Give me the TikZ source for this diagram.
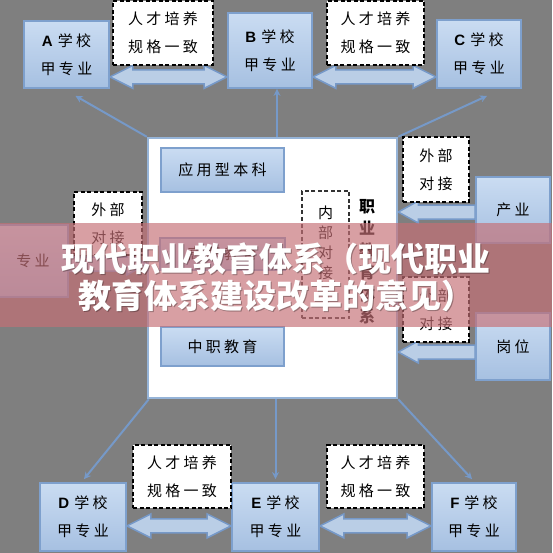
\documentclass[tikz,border=0pt]{standalone}
\usepackage{fontspec}
\setmainfont{Liberation Sans}
\newfontfamily\cjk{Noto Sans CJK SC}
\newfontfamily\cjkls{Noto Sans CJK SC}[LetterSpace=22]
\newfontfamily\latinf{Liberation Sans}
\usetikzlibrary{calc,arrows.meta}
\pgfdeclarelayer{back}\pgfdeclarelayer{mid}\pgfdeclarelayer{front}
\pgfsetlayers{back,mid,main,front}
\definecolor{bggray}{RGB}{127,127,127}
\definecolor{bordblue}{RGB}{126,160,205}
\definecolor{linblue}{RGB}{118,153,200}
\definecolor{boxtop}{RGB}{202,220,242}
\definecolor{boxbot}{RGB}{166,192,225}
\definecolor{arrfill}{RGB}{186,206,230}
\definecolor{centbord}{RGB}{150,180,216}
\definecolor{bannerred}{RGB}{198,112,118}
\tikzset{
 bluebox/.style={draw=bordblue, line width=1.8pt, top color=boxtop, bottom color=boxbot, inner sep=0pt, align=center, font=\cjkls\fontsize{15}{28}\selectfont},
 dashbox/.style={draw=black, fill=white, line width=1.6pt, dash pattern=on 4pt off 2.5pt, inner sep=0pt, align=center, font=\cjkls\fontsize{15}{28}\selectfont},
 conn/.style={draw=linblue, line width=2pt, -{Stealth[length=7pt,width=7pt]}},
 barrow/.style={draw=linblue, line width=1.5pt, fill=arrfill, line join=miter},
 bracketline/.style={draw=linblue, line width=1.3pt},
 bannertext/.style={font=\cjk\bfseries\fontsize{33}{37}\selectfont, text=white, anchor=base, inner sep=0pt},
 bannershadow/.style={font=\cjk\bfseries\fontsize{33}{37}\selectfont, text=black, opacity=0.3, anchor=base, inner sep=0pt},
}
\newcommand{\dblarr}[4]{%
\draw[barrow] (#1) -- ($(#1)+(#3,-#4)$) -- ($(#1)+(#3,-7)$) -- ($(#2)+(-#3,-7)$) -- ($(#2)+(-#3,-#4)$) -- (#2) -- ($(#2)+(-#3,#4)$) -- ($(#2)+(-#3,7)$) -- ($(#1)+(#3,7)$) -- ($(#1)+(#3,#4)$) -- cycle;}
\newcommand{\leftarr}[2]{% tip, tail
\draw[barrow] (#1) -- ($(#1)+(20,-11)$) -- ($(#1)+(20,-7)$) -- ($(#2)+(0,-7)$) -- ($(#2)+(0,7)$) -- ($(#1)+(20,7)$) -- ($(#1)+(20,11)$) -- cycle;}
\newcommand{\rightarr}[2]{% tip, tail
\draw[barrow] (#1) -- ($(#1)+(-20,-11)$) -- ($(#1)+(-20,-7)$) -- ($(#2)+(0,-7)$) -- ($(#2)+(0,7)$) -- ($(#1)+(-20,7)$) -- ($(#1)+(-20,11)$) -- cycle;}
\newcommand{\uparr}[2]{% tip, tail
\draw[barrow] (#1) -- ($(#1)+(10,12)$) -- ($(#1)+(6,12)$) -- ($(#2)+(6,0)$) -- ($(#2)+(-6,0)$) -- ($(#1)+(-6,12)$) -- ($(#1)+(-10,12)$) -- cycle;}
\begin{document}
\begin{tikzpicture}[x=1pt,y=-1pt]
\useasboundingbox (0,0) rectangle (552,553);
\begin{pgfonlayer}{back}
\fill[bggray] (0,0) rectangle (552,553);
\end{pgfonlayer}

% central box
\node[draw=centbord, line width=2.5pt, fill=white, minimum width=249pt, minimum height=260pt, inner sep=0pt] (cent) at (272.5,268) {};
\node[bluebox, minimum width=123pt, minimum height=44pt] (ben) at (222.5,170) {应用型本科};
\node[bluebox, minimum width=125pt, minimum height=32pt] (gao) at (222.5,254) {高职教育};
\node[bluebox, minimum width=123pt, minimum height=39pt] (zhong) at (222.5,346.5) {中职教育};
\node[dashbox, draw=black!80, line width=1.1pt, fill=none, minimum width=47pt, minimum height=127pt] (nb) at (325.5,254.5) {};
\node[font=\cjk\fontsize{15}{20}\selectfont, align=center, inner sep=0pt] (nbt) at (325.5,243) {内\\部\\对\\接};
\node[font=\cjk\bfseries\fontsize{16}{22}\selectfont, align=center, inner sep=0pt] (zyjy) at (367,262) {职\\业\\教\\育\\体\\系};

% top row
\node[bluebox, minimum width=85pt, minimum height=67pt] (A) at (66.5,54.5) {{\latinf\bfseries A}\hspace{5pt}学校\\甲专业};
\node[bluebox, minimum width=84pt, minimum height=75pt] (B) at (270,50.5) {{\latinf\bfseries B}\hspace{5pt}学校\\甲专业};
\node[bluebox, minimum width=84pt, minimum height=68pt] (C) at (479,54) {{\latinf\bfseries C}\hspace{5pt}学校\\甲专业};
\node[dashbox, minimum width=100pt, minimum height=64pt] (dab) at (163,33) {人才培养\\规格一致};
\node[dashbox, minimum width=97pt, minimum height=64pt] (dbc) at (375.5,33) {人才培养\\规格一致};

% bottom row
\node[bluebox, minimum width=86pt, minimum height=68pt] (D) at (83,517) {{\latinf\bfseries D}\hspace{5pt}学校\\甲专业};
\node[bluebox, minimum width=87pt, minimum height=68pt] (E) at (275.5,517) {{\latinf\bfseries E}\hspace{5pt}学校\\甲专业};
\node[bluebox, minimum width=84pt, minimum height=68pt] (F) at (474,517) {{\latinf\bfseries F}\hspace{5pt}学校\\甲专业};
\node[dashbox, minimum width=98pt, minimum height=63pt] (dde) at (182,476.5) {人才培养\\规格一致};
\node[dashbox, minimum width=97pt, minimum height=63pt] (def) at (375.5,476.5) {人才培养\\规格一致};

% sides
\node[bluebox, minimum width=74pt, minimum height=66pt] (cy) at (513,210) {产业};
\node[bluebox, minimum width=74pt, minimum height=67pt] (gw) at (513,346.5) {岗位};
\node[bluebox, minimum width=70pt, minimum height=72pt] (zy) at (33,261) {专业};
\node[dashbox, minimum width=66pt, minimum height=65pt] (wr1) at (436,169.5) {外部\\对接};
\node[dashbox, minimum width=66pt, minimum height=65pt] (wr2) at (436,309.5) {外部\\对接};
\node[dashbox, minimum width=68pt, minimum height=63pt] (wl) at (108,223.5) {外部\\对接};

\begin{pgfonlayer}{mid}
% block arrows
\coordinate (ab1) at ($(A.south east)+(0,-12)$);
\coordinate (ab2) at ($(B.south west)+(0,-12)$);
\dblarr{ab1}{ab2}{23}{11.5}
\coordinate (bc1) at ($(B.south east)+(0,-12)$);
\coordinate (bc2) at ($(C.south west)+(0,-12)$);
\dblarr{bc1}{bc2}{23}{11.5}
\coordinate (de1) at ($(D.south east)+(0,-26)$);
\coordinate (de2) at ($(E.south west)+(0,-26)$);
\dblarr{de1}{de2}{24}{12}
\coordinate (ef1) at ($(E.south east)+(0,-26)$);
\coordinate (ef2) at ($(F.south west)+(0,-26)$);
\dblarr{ef1}{ef2}{24}{12}
\coordinate (r1t) at ($(cy.west)+(0,2)$);
\coordinate (r1h) at (cent.east |- r1t);
\leftarr{r1h}{r1t}
\coordinate (r2t) at ($(gw.west)+(0,5.5)$);
\coordinate (r2h) at (cent.east |- r2t);
\leftarr{r2h}{r2t}
\coordinate (l1t) at ($(zy.east)+(0,3)$);
\coordinate (l1h) at (cent.west |- l1t);
\rightarr{l1h}{l1t}
\uparr{ben.south}{gao.north}
\uparr{gao.south}{zhong.north}
% bracket
\draw[bracketline] (ben.east) -- ++(12,0) |- (zhong.east);
% thin connectors
\coordinate (tA) at ($(A.south)+(9,7)$);
\coordinate (tB) at ($(B.south)+(7,0)$);
\coordinate (tC) at ($(C.south)+(8,7)$);
\coordinate (tD) at ($(D.north)+(1,-3)$);
\coordinate (tE) at ($(E.north)+(0,-3)$);
\coordinate (tF) at ($(F.north)+(-2,-3)$);
\draw[conn] (cent.north west) -- (tA);
\draw[conn] (cent.north -| tB) -- (tB);
\draw[conn] (cent.north east) -- (tC);
\draw[conn] ($(cent.south west)+(2,0)$) -- (tD);
\draw[conn] (cent.south -| tE) -- (tE);
\draw[conn] (cent.south east) -- (tF);
\end{pgfonlayer}

\begin{pgfonlayer}{front}
\fill[bannerred, opacity=0.67] (0,223) rectangle (552,327);
\node[bannershadow] (s1) at (277.3,272.3) {现代职业教育体系（现代职业};
\node[bannershadow] (s2) at (277.3,309.8) {教育体系建设改革的意见）};
\node[bannertext] (t1) at (276,271) {现代职业教育体系（现代职业};
\node[bannertext] (t2) at (276,308.5) {教育体系建设改革的意见）};
\end{pgfonlayer}
\end{tikzpicture}
\end{document}
